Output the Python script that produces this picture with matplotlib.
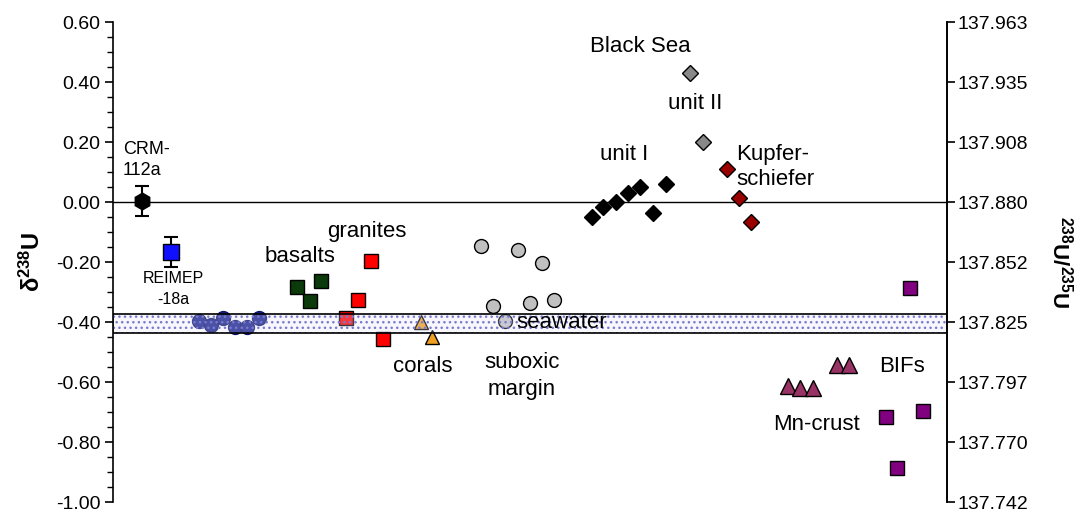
import numpy as np
import matplotlib
matplotlib.use('Agg')
from matplotlib import pyplot as plt
from matplotlib.patches import Rectangle

plt.rcParams['font.family'] = ['Liberation Sans', 'DejaVu Sans']
plt.rcParams['mathtext.fontset'] = 'custom'
plt.rcParams['mathtext.rm'] = 'Liberation Sans'
plt.rcParams['mathtext.it'] = 'Liberation Sans:italic'
plt.rcParams['mathtext.bf'] = 'Liberation Sans:bold'

# sample positions (arbitrary x units) and delta238U values
crm_x, crm_y, crm_err = [29], [0.003], [0.05]
reimep_x, reimep_y, reimep_err = [58], [-0.165], [0.05]
blue_x = [86, 98, 110, 122, 134, 146]
blue_y = [-0.397, -0.41, -0.387, -0.417, -0.417, -0.387]
basalt_x = [184, 197, 208]
basalt_y = [-0.283, -0.33, -0.263]
granite_x = [233, 245, 258, 270]
granite_y = [-0.387, -0.327, -0.197, -0.457]
coral_x = [308, 319]
coral_y = [-0.40, -0.45]
subox_x = [368, 380, 392, 405, 417, 429, 441]
subox_y = [-0.147, -0.347, -0.397, -0.16, -0.337, -0.203, -0.327]
unit1_x = [479, 490, 503, 515, 527, 540, 553]
unit1_y = [-0.05, -0.017, 0.0, 0.03, 0.05, -0.037, 0.06]
unit2_x = [577, 590]
unit2_y = [0.43, 0.20]
kupfer_x = [614, 626, 638]
kupfer_y = [0.11, 0.013, -0.067]
mn_x = [675, 687, 700, 724, 736]
mn_y = [-0.613, -0.62, -0.62, -0.543, -0.543]
bif_x = [773, 784, 797, 810]
bif_y = [-0.717, -0.887, -0.287, -0.697]

seawater = [-0.435, -0.372]

left_ticks = [-1.0, -0.8, -0.6, -0.4, -0.2, 0.0, 0.2, 0.4, 0.6]
left_labels = ['-1.00', '-0.80', '-0.60', '-0.40', '-0.20', '0.00', '0.20', '0.40', '0.60']
right_labels = ['137.742', '137.770', '137.797', '137.825', '137.852',
                '137.880', '137.908', '137.935', '137.963']

fig = plt.figure(figsize=(10.76, 5.11), dpi=100)
ax = fig.add_axes([0.105, 0.0176, 0.775, 0.939])

ax.axhline(0, color='k', lw=1.0, zorder=1)

ax.errorbar(crm_x, crm_y, yerr=crm_err, fmt='h', ms=12, color='k', mec='k',
            capsize=5, elinewidth=1.5, capthick=1.5, zorder=3)
ax.errorbar(reimep_x, reimep_y, yerr=reimep_err, fmt='s', ms=11, color='k',
            mfc='#1010FF', mec='k', capsize=5, elinewidth=1.5, capthick=1.5, zorder=3)

ax.plot(blue_x, blue_y, 'o', ms=10, mfc='#18228A', mec='#0D1668', zorder=3)
ax.plot(basalt_x, basalt_y, 's', ms=10, mfc='#0B3A0B', mec='k', zorder=3)
ax.plot(granite_x, granite_y, 's', ms=10, mfc='#FF0000', mec='k', zorder=3)
ax.plot(coral_x, coral_y, '^', ms=10, mfc='#F0A020', mec='k', zorder=3)
ax.plot(subox_x, subox_y, 'o', ms=10, mfc='#C0C0C0', mec='k', zorder=3)
ax.plot(unit1_x, unit1_y, 'D', ms=8, mfc='k', mec='k', zorder=3)
ax.plot(unit2_x, unit2_y, 'D', ms=8, mfc='#888888', mec='k', zorder=3)
ax.plot(kupfer_x, kupfer_y, 'D', ms=8, mfc='#990000', mec='k', zorder=3)
ax.plot(mn_x, mn_y, '^', ms=11, mfc='#993366', mec='k', zorder=3)
ax.plot(bif_x, bif_y, 's', ms=10, mfc='#800080', mec='k', zorder=3)

# seawater band: dotted overlay with black frame
ax.add_patch(Rectangle((0, seawater[0]), 834, seawater[1] - seawater[0],
                       facecolor=(0.88, 0.88, 0.98, 0.25), edgecolor='#7a7ad0',
                       hatch='...', lw=0, zorder=5))
ax.add_patch(Rectangle((0, seawater[0]), 834, seawater[1] - seawater[0],
                       fill=False, edgecolor='k', lw=1.2, zorder=6))

ax.text(10, 0.14, 'CRM-\n112a', fontsize=13, ha='left', va='center', linespacing=1.3)
ax.text(60, -0.29, 'REIMEP\n-18a', fontsize=11.5, ha='center', va='center', linespacing=1.5)
ax.text(187, -0.183, 'basalts', fontsize=16, ha='center', va='center')
ax.text(254, -0.097, 'granites', fontsize=16, ha='center', va='center')
ax.text(310, -0.547, 'corals', fontsize=16, ha='center', va='center')
ax.text(409, -0.58, 'suboxic\nmargin', fontsize=16, ha='center', va='center', linespacing=1.4)
ax.text(449, -0.403, 'seawater', fontsize=16, ha='center', va='center', zorder=7)
ax.text(527, 0.52, 'Black Sea', fontsize=16, ha='center', va='center')
ax.text(582, 0.33, 'unit II', fontsize=16, ha='center', va='center')
ax.text(511, 0.16, 'unit I', fontsize=16, ha='center', va='center')
ax.text(623, 0.117, 'Kupfer-\nschiefer', fontsize=16, ha='left', va='center', linespacing=1.3)
ax.text(704, -0.74, 'Mn-crust', fontsize=16, ha='center', va='center')
ax.text(789, -0.547, 'BIFs', fontsize=16, ha='center', va='center')

ax.set_xlim(0, 834)
ax.set_ylim(-1.0, 0.6)
ax.set_xticks([])
ax.set_yticks(left_ticks)
ax.set_yticklabels(left_labels)
ax.set_yticks(np.arange(-1.0, 0.6001, 0.05), minor=True)
ax.tick_params(axis='y', which='major', direction='out', length=6, width=1.2, labelsize=14, pad=3)
ax.tick_params(axis='y', which='minor', direction='out', length=4, width=1.0)
ax.spines['top'].set_visible(False)
ax.spines['bottom'].set_visible(False)
ax.spines['left'].set_linewidth(1.2)
ax.spines['right'].set_linewidth(1.2)
ax.set_ylabel(r'$\mathbf{\delta^{238}U}$', fontsize=17, labelpad=8)

ax2 = ax.twinx()
ax2.set_ylim(-1.0, 0.6)
ax2.set_yticks(left_ticks)
ax2.set_yticklabels(right_labels)
ax2.tick_params(axis='y', direction='out', length=6, width=1.2, labelsize=14, pad=2)
ax2.spines['top'].set_visible(False)
ax2.spines['bottom'].set_visible(False)
ax2.spines['left'].set_visible(False)
ax2.spines['right'].set_linewidth(1.2)
ax2.set_ylabel(r'$\mathbf{^{238}U/^{235}U}$', fontsize=16, rotation=270, labelpad=32)

fig.savefig('out.png', dpi=100)
